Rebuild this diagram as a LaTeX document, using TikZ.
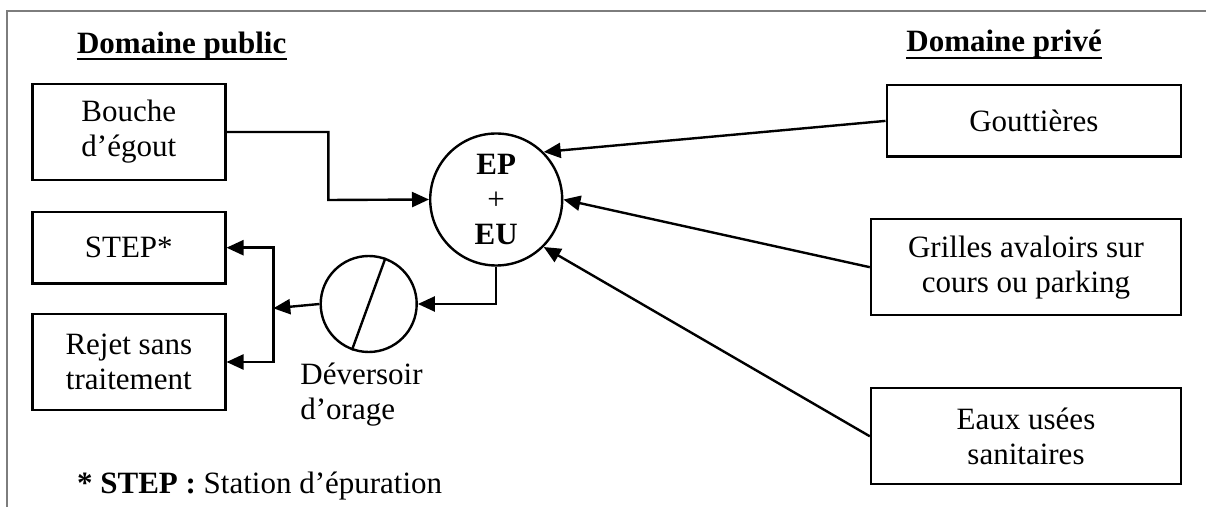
\documentclass[tikz,border=0pt]{standalone}
\usepackage{fontspec}
\setmainfont{Liberation Serif}
\usetikzlibrary{arrows.meta}
\definecolor{frameGray}{RGB}{125,125,125}
\newcommand{\myfonttext}{\fontsize{15.5}{17.5}\selectfont}
\begin{document}
\begin{tikzpicture}[x=0.5pt,y=-0.5pt,font=\myfonttext,
		box/.style={draw,line width=1.2pt,inner sep=0pt,align=center},
		flow/.style={line width=1.2pt,-{Triangle[length=8.5pt,width=7.5pt]}}]
			%Outer frame
			\useasboundingbox (0,0) rectangle (1206,507);
			\draw [frameGray,line width=1pt] (6.7,507) -- (6.7,10.7) -- (1206,10.7);
			%Titles of the two domains
			\node [inner sep=0pt,anchor=base west] (titlePublic) at (76.7,53.3) {\textbf{Domaine public}};
			\node [inner sep=0pt,anchor=base west] (titlePrive) at (906,51.7) {\textbf{Domaine privé}};
			\draw [line width=1pt] ([yshift=-3pt]titlePublic.base west) -- ([yshift=-3pt]titlePublic.base east);
			\draw [line width=1pt] ([yshift=-3pt]titlePrive.base west) -- ([yshift=-3pt]titlePrive.base east);
			%Boxes of the public side
			\coordinate (centerBouche) at (128.8,132);
			\coordinate (centerStep) at (128.8,247.7);
			\coordinate (centerRejet) at (128.8,362);
			\node [box,minimum width=96.5pt,minimum height=48pt] (bouche) at (centerBouche) {Bouche\\d’égout};
			\node [box,minimum width=96.5pt,minimum height=35.7pt] (step) at (centerStep) {STEP*};
			\node [box,minimum width=96.5pt,minimum height=48pt] (rejet) at (centerRejet) {Rejet sans\\traitement};
			%Boxes of the private side
			\coordinate (centerGout) at (1033.9,120.9);
			\coordinate (centerGrilles) at (1026,267.2);
			\coordinate (centerEaux) at (1026,436.3);
			\node [box,minimum width=147.2pt,minimum height=35.8pt] (gout) at (centerGout) {Gouttières};
			\node [box,minimum width=155pt,minimum height=48pt] (grilles) at (centerGrilles) {Grilles avaloirs sur\\cours ou parking};
			\node [box,minimum width=155pt,minimum height=48pt] (eaux) at (centerEaux) {Eaux usées\\sanitaires};
			%The collector and the overflow
			\coordinate (centerEp) at (496.2,199.5);
			\coordinate (centerDev) at (368.7,304);
			\node [box,circle,minimum size=66pt] (ep) at (centerEp) {\textbf{EP}\\+\\\textbf{EU}};
			\node [box,circle,minimum size=48pt] (dev) at (centerDev) {};
			\draw [line width=1.2pt] (dev.70) -- (dev.250);
			\node [inner sep=0pt,anchor=base west,align=left] (devLabel) at (300,419.5) {Déversoir\\d’orage};
			%Connectors
			\coordinate (bendBouche) at (328.3,200);
			\coordinate (junction) at (273.3,308.3);
			\draw [flow] (bouche.east) -| (bendBouche) -- (ep.west);
			\draw [flow] (gout.west) -- (ep.45);
			\draw [flow] (grilles.west) -- (ep.east);
			\draw [flow] (eaux.west) -- (ep.-45);
			\draw [flow] (ep.south) |- (dev.east);
			\draw [flow] (dev.west) -- (junction);
			\draw [flow] (junction) |- (step.east);
			\draw [flow] (junction) |- (rejet.east);
			%Footnote
			\node [inner sep=0pt,anchor=base west] (footnote) at (76.7,493.3) {\textbf{* STEP :} Station d’épuration};
\end{tikzpicture}
\end{document}
